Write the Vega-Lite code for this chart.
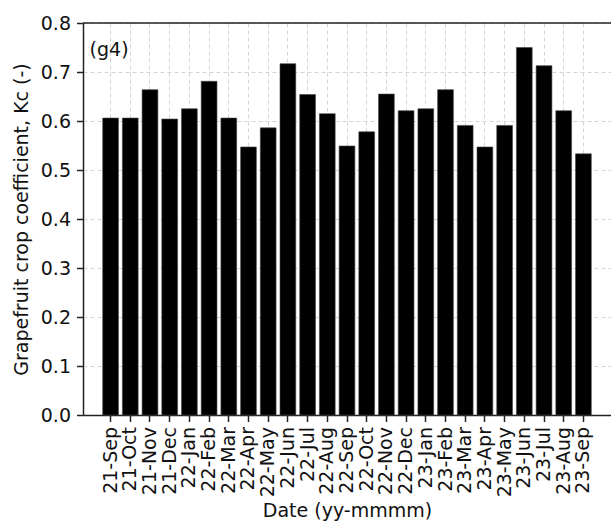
{
  "$schema": "https://vega.github.io/schema/vega-lite/v6.json",
  "width": 528,
  "height": 392,
  "autosize": {"type": "none"},
  "padding": {"left": 83, "top": 23, "right": 0, "bottom": 113},
  "background": "white",
  "config": {
    "view": {"stroke": null},
    "font": "DejaVu Sans",
    "axis": {
      "labelFont": "DejaVu Sans",
      "titleFont": "DejaVu Sans",
      "labelFontSize": 19,
      "titleFontSize": 19,
      "titleFontWeight": "normal",
      "labelColor": "#111",
      "titleColor": "#111",
      "domainColor": "#222",
      "domainWidth": 1.5,
      "tickColor": "#222",
      "tickWidth": 1.5,
      "tickSize": 6.5,
      "labelPadding": 5,
      "labelOverlap": false,
      "grid": true,
      "gridColor": "#d4d4d4",
      "gridDash": [4, 3],
      "gridWidth": 1,
      "zindex": 1
    }
  },
  "data": {
    "values": [
      {"month": "21-Sep", "kc": 0.606},
      {"month": "21-Oct", "kc": 0.606},
      {"month": "21-Nov", "kc": 0.664},
      {"month": "21-Dec", "kc": 0.604},
      {"month": "22-Jan", "kc": 0.625},
      {"month": "22-Feb", "kc": 0.681},
      {"month": "22-Mar", "kc": 0.606},
      {"month": "22-Apr", "kc": 0.547},
      {"month": "22-May", "kc": 0.586},
      {"month": "22-Jun", "kc": 0.717},
      {"month": "22-Jul", "kc": 0.654},
      {"month": "22-Aug", "kc": 0.615},
      {"month": "22-Sep", "kc": 0.549},
      {"month": "22-Oct", "kc": 0.578},
      {"month": "22-Nov", "kc": 0.655},
      {"month": "22-Dec", "kc": 0.621},
      {"month": "23-Jan", "kc": 0.625},
      {"month": "23-Feb", "kc": 0.664},
      {"month": "23-Mar", "kc": 0.591},
      {"month": "23-Apr", "kc": 0.547},
      {"month": "23-May", "kc": 0.591},
      {"month": "23-Jun", "kc": 0.750},
      {"month": "23-Jul", "kc": 0.713},
      {"month": "23-Aug", "kc": 0.621},
      {"month": "23-Sep", "kc": 0.533}
    ]
  },
  "layer": [
    {
      "mark": {"type": "bar", "color": "black", "stroke": "#444", "strokeWidth": 0.6},
      "encoding": {
        "x": {
          "field": "month",
          "type": "ordinal",
          "sort": null,
          "scale": {"paddingInner": 0.2, "paddingOuter": 1.2},
          "axis": {
            "title": "Date (yy-mmmm)",
            "labelAngle": -90,
            "labelPadding": 5,
            "titlePadding": 5
          }
        },
        "y": {
          "field": "kc",
          "type": "quantitative",
          "scale": {"domain": [0, 0.8], "nice": false},
          "axis": {
            "title": "Grapefruit crop coefficient, Kc (-)",
            "values": [0, 0.1, 0.2, 0.3, 0.4, 0.5, 0.6, 0.7, 0.8],
            "format": ".1f",
            "labelPadding": 6,
            "titlePadding": 9
          }
        }
      }
    },
    {
      "data": {"values": [{}]},
      "mark": {"type": "rule", "color": "#222", "strokeWidth": 1.5},
      "encoding": {"y": {"datum": 0.8}}
    },
    {
      "data": {"values": [{}]},
      "mark": {"type": "text", "text": "(g4)", "align": "left", "baseline": "middle", "fontSize": 19, "dx": -21, "dy": 2, "color": "#111"},
      "encoding": {
        "x": {"datum": "21-Sep", "type": "ordinal"},
        "y": {"datum": 0.75}
      }
    }
  ]
}
